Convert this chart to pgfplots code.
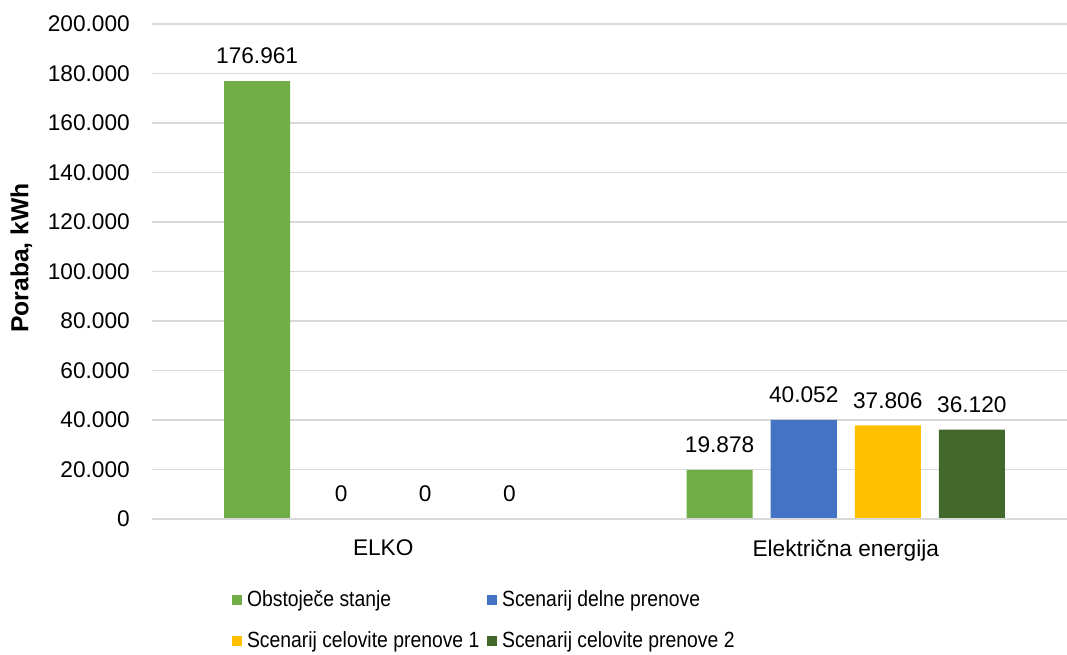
\documentclass[border=0pt]{standalone}
\usepackage{pgfplots}
\pgfplotsset{compat=1.18}
\usepackage{fontspec}
\setmainfont{Liberation Sans}
\newfontfamily\narrowfont[FakeStretch=0.88]{Liberation Sans}

\definecolor{cGreen}{HTML}{70AD47}
\definecolor{cBlue}{HTML}{4472C4}
\definecolor{cGold}{HTML}{FFC000}
\definecolor{cDark}{HTML}{43682B}
\definecolor{cGrid}{HTML}{D9D9D9}

\begin{document}
\fontsize{17}{20}\selectfont
\begin{tikzpicture}
\begin{axis}[
  at={(114pt,102pt)}, anchor=south west,
  width=693.75pt, height=371.25pt, scale only axis,
  xmin=-0.5, xmax=1.5, ymin=0, ymax=200000,
  ytick={0,20000,...,200000},
  xtick={0,1}, xticklabels={ELKO, Električna energija},
  scaled y ticks=false,
  /pgf/number format/.cd, 1000 sep={.}, fixed, precision=0, assume math mode=true,
  /pgfplots/.cd,
  axis x line*=bottom, axis y line*=left,
  y axis line style={draw=none},
  x axis line style={cGrid, line width=1.1pt},
  major tick length=0pt,
  ymajorgrids, major grid style={cGrid, line width=1.1pt},
  yticklabel style={xshift=-10.8pt},
  xticklabel style={yshift=-10pt},
  ybar, bar width=0.1429,
  nodes near coords,
  every node near coord/.append style={yshift=7pt, black},
  legend columns=2,
  legend cell align=left,
  legend style={at={(axis description cs:0.0862,-0.135)}, anchor=north west,
    draw=none, fill=none, inner sep=0pt, column sep=0pt, row sep=10.5pt,
    font=\narrowfont\fontsize{16.5}{19}\selectfont,
    nodes={inner xsep=3.75pt, inner ysep=3pt},
    /tikz/every even column/.append style={column sep=2pt}},
  legend image code/.code={\fill[#1] (0pt,-3.75pt) rectangle (7.5pt,3.75pt);},
]
\addplot[fill=cGreen, draw=none, bar shift=-0.2727] coordinates {(0,176961) (1,19878)};
\addplot[fill=cBlue,  draw=none, bar shift=-0.0909] coordinates {(0,0) (1,40052)};
\addplot[fill=cGold,  draw=none, bar shift=0.0909]  coordinates {(0,0) (1,37806)};
\addplot[fill=cDark,  draw=none, bar shift=0.2727]  coordinates {(0,0) (1,36120)};
\legend{Obstoječe stanje, Scenarij delne prenove, Scenarij celovite prenove 1, Scenarij celovite prenove 2}
% baseline redrawn over the bars so zero-height bars leave no trace
\draw[cGrid, line width=1.1pt] (rel axis cs:0,0) -- (rel axis cs:1,0);
\end{axis}
\node[rotate=90, font=\fontsize{18.5}{22}\selectfont\bfseries] at (16pt,297.75pt) {Poraba, kWh};
\pgfresetboundingbox
\path[use as bounding box] (0,0) rectangle (800.25pt,491.25pt);
\end{tikzpicture}
\end{document}
